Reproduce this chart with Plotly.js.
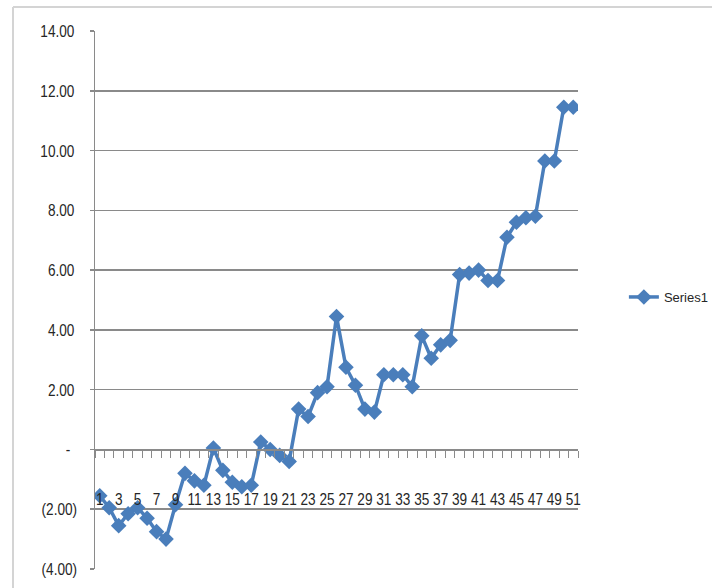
<!DOCTYPE html>
<html>
<head>
<meta charset="utf-8">
<script src="https://cdn.plot.ly/plotly-3.0.1.min.js"></script>
<style>
  html, body { margin: 0; padding: 0; background: #fff; }
  #chart { width: 712px; height: 588px; }
</style>
</head>
<body>
<div id="chart"></div>
<script>
// ---- data ----
var categories = ['1','2','3','4','5','6','7','8','9','10',
  '11','12','13','14','15','16','17','18','19','20',
  '21','22','23','24','25','26','27','28','29','30',
  '31','32','33','34','35','36','37','38','39','40',
  '41','42','43','44','45','46','47','48','49','50','51'];

var series1 = [-1.55, -1.95, -2.55, -2.15, -1.95, -2.30, -2.75, -3.00, -1.85, -0.80,
  -1.05, -1.20, 0.05, -0.70, -1.10, -1.25, -1.20, 0.25, 0.00, -0.20,
  -0.40, 1.35, 1.10, 1.90, 2.10, 4.45, 2.75, 2.15, 1.35, 1.25,
  2.50, 2.50, 2.50, 2.10, 3.80, 3.05, 3.50, 3.65, 5.85, 5.90,
  6.00, 5.65, 5.65, 7.10, 7.60, 7.75, 7.80, 9.65, 9.65, 11.45, 11.45];

var xTickLabels = ['1','3','5','7','9','11','13','15','17','19','21','23','25',
  '27','29','31','33','35','37','39','41','43','45','47','49','51'];

var yTickValues = [-4, -2, 0, 2, 4, 6, 8, 10, 12, 14];
var yTickLabels = ['(4.00)', '(2.00)', '-\u2002', '2.00\u2009', '4.00\u2009', '6.00\u2009',
  '8.00\u2009', '10.00\u2009', '12.00\u2009', '14.00\u2009'];

var seriesName = 'Series1';

// ---- chart ----
var xNum = categories.map(Number);
var xTickVals = xTickLabels.map(Number);

var fontFam = '"Liberation Sans", Arial, sans-serif';
var blue = '#4a7ebb';
var grid = '#8a8a8a';
var txt = '#262626';

var trace = {
  x: xNum,
  y: series1,
  type: 'scatter',
  mode: 'lines+markers',
  name: seriesName,
  line: { color: blue, width: 3.5 },
  marker: { symbol: 'diamond', size: 12, color: blue, line: { width: 0 } }
};

var layout = {
  width: 712,
  height: 588,
  margin: { l: 95, r: 134, t: 31, b: 19, pad: 0, autoexpand: false },
  paper_bgcolor: '#ffffff',
  plot_bgcolor: '#ffffff',
  font: { family: fontFam, size: 17, color: txt },
  showlegend: true,
  legend: {
    x: 1.095, xanchor: 'left',
    y: (569 - 297) / 538, yanchor: 'middle',
    font: { family: fontFam, size: 13, color: txt },
    bgcolor: 'rgba(0,0,0,0)',
    borderwidth: 0
  },
  xaxis: {
    type: 'linear',
    range: [0.5, 51.5],
    anchor: 'free',
    position: 4 / 18,
    showgrid: false,
    zeroline: false,
    showline: true,
    linecolor: grid,
    linewidth: 1.5,
    tickmode: 'array',
    tickvals: xTickVals,
    ticktext: xTickLabels,
    tickangle: 0,
    ticks: '',
    ticklabelstandoff: 34,
    tickfont: { family: fontFam, size: 17, color: txt },
    minor: {
      tick0: 0.5, dtick: 1, ticks: 'outside', ticklen: 7,
      tickcolor: grid, tickwidth: 1, showgrid: false
    },
    automargin: false,
    fixedrange: true
  },
  yaxis: {
    range: [-4, 14],
    tickmode: 'array',
    tickvals: yTickValues,
    ticktext: yTickLabels,
    showgrid: true,
    gridcolor: grid,
    gridwidth: 1.6,
    zeroline: false,
    showline: true,
    linecolor: grid,
    linewidth: 1.5,
    ticks: 'outside',
    ticklen: 4,
    tickcolor: grid,
    tickwidth: 1.5,
    ticklabelstandoff: 9,
    tickfont: { family: fontFam, size: 17, color: txt },
    automargin: false,
    fixedrange: true
  },
  shapes: [
    { type: 'line', xref: 'paper', yref: 'paper',
      x0: (13 - 95) / 483, x1: (730 - 95) / 483,
      y0: (569 - 7) / 538, y1: (569 - 7) / 538,
      line: { color: '#d4d4d4', width: 2 } },
    { type: 'line', xref: 'paper', yref: 'paper',
      x0: (13 - 95) / 483, x1: (13 - 95) / 483,
      y0: (569 - 7) / 538, y1: (569 - 600) / 538,
      line: { color: '#d4d4d4', width: 2 } }
  ]
};

// squeeze axis tick text horizontally to mimic the condensed look of the original
function condense(gd) {
  var sel = gd.querySelectorAll('.xtick text, .ytick text');
  sel.forEach(function (el) {
    var w = el.getComputedTextLength();
    if (w > 0) {
      el.setAttribute('textLength', (w * 0.8).toFixed(2));
      el.setAttribute('lengthAdjust', 'spacingAndGlyphs');
    }
  });
}

Plotly.newPlot('chart', [trace], layout, { displayModeBar: false, staticPlot: true })
  .then(function (gd) { condense(gd); });
</script>
</body>
</html>
